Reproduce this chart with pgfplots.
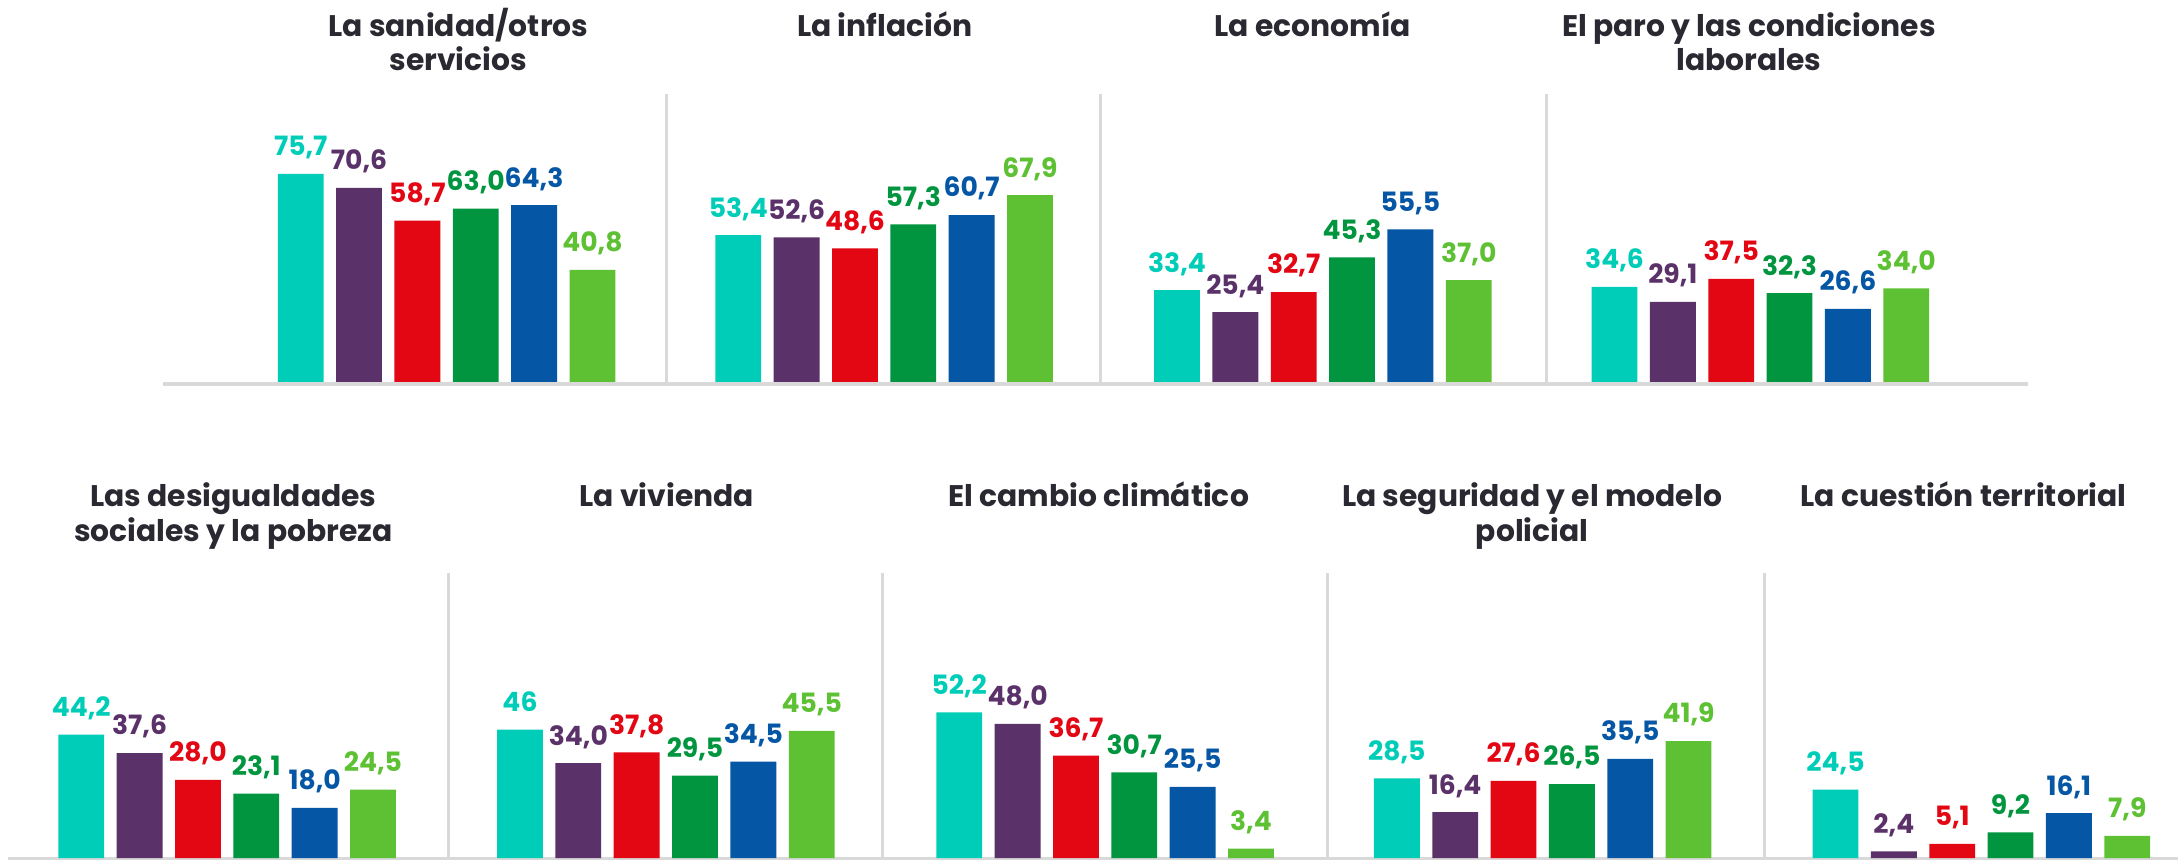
\documentclass[border=0pt]{standalone}
\usepackage{fontspec}
\setmainfont{Poppins}
\usepackage{pgfplots}
\pgfplotsset{compat=1.18}
\usepackage{pgfplotstable}

\definecolor{cteal}{HTML}{00CDB7}
\definecolor{cpurple}{HTML}{5B3169}
\definecolor{cred}{HTML}{E30613}
\definecolor{cgreen}{HTML}{00953E}
\definecolor{cblue}{HTML}{0556A5}
\definecolor{clime}{HTML}{5DC133}
\definecolor{sepgray}{HTML}{D9D9D9}
\definecolor{titlecol}{HTML}{2A2932}

% top row: x = panel offset + bar index
\pgfplotstableread{
x y lab
0     75.7 75,7
7.5   53.4 53,4
15.02 33.4 33,4
22.52 34.6 34,6
}\topA
\pgfplotstableread{
x y lab
1     70.6 70,6
8.5   52.6 52,6
16.02 25.4 25,4
23.52 29.1 29,1
}\topB
\pgfplotstableread{
x y lab
2     58.7 58,7
9.5   48.6 48,6
17.02 32.7 32,7
24.52 37.5 37,5
}\topC
\pgfplotstableread{
x y lab
3     63.0 63,0
10.5  57.3 57,3
18.02 45.3 45,3
25.52 32.3 32,3
}\topD
\pgfplotstableread{
x y lab
4     64.3 64,3
11.5  60.7 60,7
19.02 55.5 55,5
26.52 26.6 26,6
}\topE
\pgfplotstableread{
x y lab
5     40.8 40,8
12.5  67.9 67,9
20.02 37.0 37,0
27.52 34.0 34,0
}\topF

% bottom row
\pgfplotstableread{
x y lab
0     44.2 44,2
7.52  46.0 46
15.05 52.2 52,2
22.55 28.5 28,5
30.07 24.5 24,5
}\botA
\pgfplotstableread{
x y lab
1     37.6 37,6
8.52  34.0 34,0
16.05 48.0 48,0
23.55 16.4 16,4
31.07 2.4  2,4
}\botB
\pgfplotstableread{
x y lab
2     28.0 28,0
9.52  37.8 37,8
17.05 36.7 36,7
24.55 27.6 27,6
32.07 5.1  5,1
}\botC
\pgfplotstableread{
x y lab
3     23.1 23,1
10.52 29.5 29,5
18.05 30.7 30,7
25.55 26.5 26,5
33.07 9.2  9,2
}\botD
\pgfplotstableread{
x y lab
4     18.0 18,0
11.52 34.5 34,5
19.05 25.5 25,5
26.55 35.5 35,5
34.07 16.1 16,1
}\botE
\pgfplotstableread{
x y lab
5     24.5 24,5
12.52 45.5 45,5
20.05 3.4  3,4
27.55 41.9 41,9
35.07 7.9  7,9
}\botF

\pgfplotsset{
  panelrow/.style={
    anchor=south west, x=8.4mm,
    xmin=-0.5, ymin=0, ymax=80, enlargelimits=false,
    hide axis, clip=false,
    ybar, bar width=6.6mm, bar shift=0pt,
    point meta=explicit symbolic,
    nodes near coords=\pgfplotspointmeta,
    every node near coord/.append style={
      font=\fontsize{10.9}{12}\selectfont\bfseries,
      anchor=base, yshift=2.6mm, inner sep=0pt},
  },
}
\newcommand{\bars}[2]{\addplot[fill=#1, draw=none,
  every node near coord/.append style={text=#1}] table[x=x, y=y, meta=lab] {#2};}
\newcommand{\ttl}[3]{\node[anchor=base, text=titlecol,
  font=\fontsize{12.2}{14}\selectfont\bfseries] at (#1mm,#2mm) {#3};}

\begin{document}
\begin{tikzpicture}
\path[use as bounding box] (0,0) rectangle (313.6mm,123.8mm);

% rules and separators
\draw[sepgray, line width=0.55mm] (23.4mm,68.5mm) -- (292mm,68.5mm);
\foreach \sx in {96,158.4,222.6}
  \draw[sepgray, line width=0.43mm] (\sx mm,110.2mm) -- (\sx mm,68.5mm);
\draw[sepgray, line width=0.5mm] (1.2mm,0.1mm) -- (313.6mm,0.1mm);
\foreach \sx in {64.6,127,191.2,254}
  \draw[sepgray, line width=0.43mm] (\sx mm,41.3mm) -- (\sx mm,0mm);

% titles
\ttl{66}{118.6}{La sanidad/otros}
\ttl{66}{113.7}{servicios}
\ttl{127.4}{118.6}{La inflación}
\ttl{189}{118.6}{La economía}
\ttl{251.8}{118.6}{El paro y las condiciones}
\ttl{251.8}{113.7}{laborales}
\ttl{33.6}{50.84}{Las desigualdades}
\ttl{33.6}{45.8}{sociales y la pobreza}
\ttl{96}{50.84}{La vivienda}
\ttl{158.2}{50.84}{El cambio climático}
\ttl{220.6}{50.84}{La seguridad y el modelo}
\ttl{220.6}{45.8}{policial}
\ttl{282.7}{50.84}{La cuestión territorial}

\begin{axis}[panelrow, y=0.396mm, at={(39.1mm,68.8mm)}, xmax=28]
  \bars{cteal}{\topA}
  \bars{cpurple}{\topB}
  \bars{cred}{\topC}
  \bars{cgreen}{\topD}
  \bars{cblue}{\topE}
  \bars{clime}{\topF}
\end{axis}

\begin{axis}[panelrow, y=0.402mm, at={(7.5mm,0.26mm)}, xmax=36]
  \bars{cteal}{\botA}
  \bars{cpurple}{\botB}
  \bars{cred}{\botC}
  \bars{cgreen}{\botD}
  \bars{cblue}{\botE}
  \bars{clime}{\botF}
\end{axis}
\end{tikzpicture}
\end{document}
